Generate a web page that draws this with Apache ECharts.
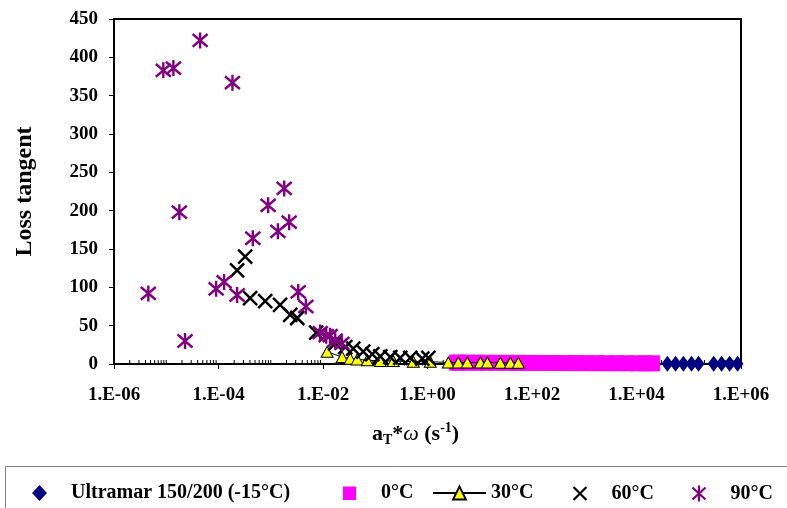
<!DOCTYPE html>
<html>
<head>
<meta charset="utf-8">
<script src="https://cdn.jsdelivr.net/npm/echarts@6/dist/echarts.min.js"></script>
<style>html,body{margin:0;padding:0;background:#fff}#c{width:787px;height:508px}</style>
</head>
<body>
<div id="c"></div>
<script>
const FONT = '"Liberation Serif", "Times New Roman", serif';
const seriesNames = ['Ultramar 150/200 (-15°C)', '0°C', '30°C', '60°C', '90°C'];
const xTickValues = [1e-6, 1e-4, 1e-2, 1, 1e2, 1e4, 1e6];
const xTickLabels = ['1.E-06', '1.E-04', '1.E-02', '1.E+00', '1.E+02', '1.E+04', '1.E+06'];
const yTickLabels = ['0', '50', '100', '150', '200', '250', '300', '350', '400', '450'];
const minorMantissas = [1, 2, 3, 4, 5, 6, 7, 8, 9];
const minorDecades = [-6, -5, -4, -3, -2, -1, 0, 1, 2, 3, 4, 5];

const ultramarX = [3.9e4, 5.6e4, 7.9e4, 1.13e5, 1.54e5, 3.0e5, 4.25e5, 6.05e5, 8.6e5];
const ultramarY = [0.4, 0.4, 0.3, 0.3, 0.3, 0.2, 0.2, 0.2, 0.2];

const c0X = [3.6, 4.06, 6.05, 9.0, 13.4, 20.8, 32.3, 50.3, 78.2, 121, 189, 293, 456, 709, 1100, 1710, 2660, 4140, 6430, 10000, 14900, 20300];
const c0Y = [1.8, 1.8, 1.7, 1.7, 1.6, 1.6, 1.5, 1.5, 1.4, 1.4, 1.3, 1.3, 1.2, 1.2, 1.1, 1.1, 1.0, 1.0, 1.0, 0.9, 0.9, 0.9];

const c30X = [0.012, 0.0233, 0.0332, 0.0452, 0.0703, 0.125, 0.221, 0.535, 1.13, 2.5, 3.89, 5.78, 10.3, 14, 24.8, 38.6, 54.8];
const c30Y = [16, 9, 7, 6, 5, 4, 4, 3, 3, 2, 2, 2, 2, 2, 1.5, 1.5, 1.5];

const c60X = [2.27e-4, 3.24e-4, 4.03e-4, 7.82e-4, 1.51e-3, 2.36e-3, 3.21e-3, 7.41e-3, 0.0171, 0.0266, 0.0379, 0.0589, 0.0877, 0.125, 0.194, 0.301, 0.468, 0.794, 1.04];
const c60Y = [122, 140, 86, 82, 77, 64, 60, 41, 27, 22, 20, 16, 13, 10, 9, 8, 8, 7, 8];

const c90X = [4.54e-6, 8.79e-6, 1.37e-5, 1.78e-5, 2.29e-5, 4.45e-5, 9.0e-5, 1.28e-4, 1.85e-4, 2.27e-4, 4.54e-4, 8.91e-4, 1.37e-3, 1.81e-3, 2.25e-3, 3.35e-3, 4.70e-3, 8.83e-3, 0.0115, 0.0137, 0.0171, 0.0230];
const c90Y = [92, 383, 386, 198, 30, 422, 98, 107, 367, 90, 164, 207, 173, 229, 185, 94, 75, 41, 37, 37, 31, 27];

function pairs(xs, ys) { return xs.map((x, i) => [x, ys[i]]); }
const minorTicks = [];
minorDecades.forEach(d => minorMantissas.forEach(m => {
  const v = m * Math.pow(10, d);
  if (!(m === 1 && d % 2 === 0)) minorTicks.push([v, 0]);
}));

const X_PATH = 'path://M0,0L10,10M0,10L10,0';
const AST_PATH = 'path://M0,1L10,9M0,9L10,1M5,0L5,10';
// legend icons: 53x16 boxes with the glyph centred (leading moves fix the box)
const LEG_DIAMOND = 'path://M0,0M53,16M26.5,0L34,8L26.5,16L19,8Z';
const LEG_RECT = 'path://M0,0M53,16M20,1.5L33,1.5L33,15L20,15Z';
const LEG_X = 'path://M0,0M53,16M20,1.5L33,14.5M20,14.5L33,1.5';
const LEG_AST = 'path://M0,0M53,16M20,2L33,14M20,14L33,2M26.5,0L26.5,16';

const legendItems = [
  {name: seriesNames[0], icon: LEG_DIAMOND},
  {name: seriesNames[1], icon: LEG_RECT},
  {name: seriesNames[2]},
  {name: seriesNames[3], icon: LEG_X, itemStyle: {color: 'none', borderColor: '#000', borderWidth: 2.2, opacity: 1}},
  {name: seriesNames[4], icon: LEG_AST, itemStyle: {color: 'none', borderColor: '#800080', borderWidth: 2.2, opacity: 1}}
];
const legendLefts = [13, 323, 432, 551, 670];
const legends = legendItems.map((it, i) => ({
  data: [it], left: legendLefts[i], top: 483, padding: 0,
  itemWidth: 53, itemHeight: 16, itemGap: 0,
  textStyle: {fontFamily: FONT, fontWeight: 'bold', fontSize: 20, color: '#000'}
}));

const chart = echarts.init(document.getElementById('c'), null, {renderer: 'canvas'});
chart.setOption({
  animation: false,
  backgroundColor: '#fff',
  grid: {left: 114, right: 46, top: 19, bottom: 144, show: true, borderColor: '#000', borderWidth: 2,
    backgroundColor: 'transparent', containLabel: false, outerBoundsMode: 'none'},
  graphic: [{
    type: 'rect', left: 5, top: 466, silent: true, z: -1,
    shape: {width: 800, height: 60},
    style: {fill: '#fff', stroke: '#808080', lineWidth: 1}
  }],
  xAxis: {
    type: 'log', logBase: 10, min: 1e-6, max: 1e6, interval: 2, splitNumber: 6,
    axisLine: {lineStyle: {color: '#000', width: 2}},
    axisTick: {show: true, inside: false, length: 5, lineStyle: {color: '#000', width: 1}},
    splitLine: {show: false}, minorTick: {show: false},
    axisLabel: {
      margin: 22, color: '#000', fontFamily: FONT, fontWeight: 'bold', fontSize: 19,
      formatter: v => { const i = xTickValues.findIndex(t => Math.abs(Math.log10(t) - Math.log10(v)) < 1e-6); return i >= 0 ? xTickLabels[i] : ''; }
    },
    name: '{a|a}{sub|T}{a|*}{w|ω}{a| (s}{sup|-1}{a|)}',
    nameLocation: 'middle', nameGap: 57,
    nameTextStyle: {
      padding: [0, 24, 0, 0],
      rich: {
        a: {fontFamily: FONT, fontWeight: 'bold', fontSize: 22, color: '#000', lineHeight: 26},
        w: {fontFamily: FONT, fontStyle: 'italic', fontSize: 22, color: '#000', lineHeight: 26},
        sub: {fontFamily: FONT, fontWeight: 'bold', fontSize: 14, color: '#000', verticalAlign: 'bottom', lineHeight: 26, padding: [9, 0, 0, 0]},
        sup: {fontFamily: FONT, fontWeight: 'bold', fontSize: 14, color: '#000', verticalAlign: 'top', lineHeight: 26, padding: [0, 0, 9, 0]}
      }
    }
  },
  yAxis: {
    type: 'value', min: 0, max: 450, interval: 50,
    axisLine: {show: true, lineStyle: {color: '#000', width: 2}},
    axisTick: {show: true, inside: false, length: 5, lineStyle: {color: '#000', width: 1}},
    splitLine: {show: false},
    axisLabel: {margin: 16, color: '#000', fontFamily: FONT, fontWeight: 'bold', fontSize: 19,
      formatter: v => yTickLabels[Math.round(v / 50)]},
    name: 'Loss tangent', nameLocation: 'middle', nameGap: 77, nameRotate: 90,
    nameTextStyle: {fontFamily: FONT, fontWeight: 'bold', fontSize: 24, color: '#000'}
  },
  legend: legends,
  series: [
    {
      type: 'custom', name: 'minorTicks', silent: true, z: 1,
      data: minorTicks,
      renderItem: (params, api) => {
        const p = api.coord([api.value(0), 0]);
        return {type: 'line', shape: {x1: p[0], y1: p[1], x2: p[0], y2: p[1] - 4}, style: {stroke: '#000', lineWidth: 1}};
      }
    },
    {
      name: seriesNames[0], type: 'scatter', symbol: 'diamond', symbolSize: [12, 16],
      itemStyle: {color: '#000080', opacity: 1}, data: pairs(ultramarX, ultramarY), z: 3
    },
    {
      name: seriesNames[1], type: 'scatter', symbol: 'rect', symbolSize: [15, 16],
      itemStyle: {color: '#FF00FF', opacity: 1}, data: pairs(c0X, c0Y), z: 3
    },
    {
      name: seriesNames[2], type: 'line', symbol: 'triangle', symbolSize: [12, 11], showSymbol: true,
      lineStyle: {color: '#000', width: 1},
      itemStyle: {color: '#FFFF00', borderColor: '#000', borderWidth: 1, opacity: 1},
      data: pairs(c30X, c30Y), z: 4
    },
    {
      name: seriesNames[3], type: 'scatter', symbol: X_PATH, symbolSize: 14,
      itemStyle: {color: 'none', borderColor: '#000', borderWidth: 2.5, opacity: 1},
      data: pairs(c60X, c60Y), z: 5
    },
    {
      name: seriesNames[4], type: 'scatter', symbol: AST_PATH, symbolSize: [15, 16],
      itemStyle: {color: 'none', borderColor: '#800080', borderWidth: 2.5, opacity: 1},
      data: pairs(c90X, c90Y), z: 6
    }
  ]
});
</script>
</body>
</html>
